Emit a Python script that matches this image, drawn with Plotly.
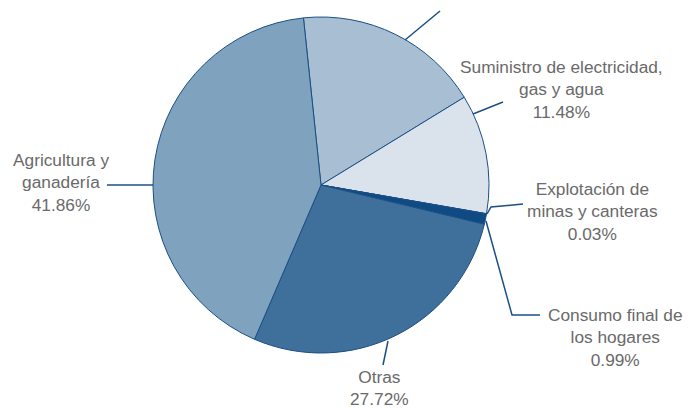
import plotly.graph_objects as go

# Data (clockwise from just left of 12 o'clock)
categories = [
    "Industria",
    "Suministro de electricidad,<br>gas y agua",
    "Explotación de<br>minas y canteras",
    "Consumo final de<br>los hogares",
    "Otras",
    "Agricultura y<br>ganadería",
]
shares = [17.92, 11.48, 0.03, 0.99, 27.72, 41.86]
colors = ["#a8bed3", "#dae3ec", "#1d5a92", "#0f4a84", "#3f6f9b", "#7fa2bf"]

W, H = 694, 410
CX, CY, R = 321, 185, 168

fig = go.Figure()
fig.add_trace(go.Pie(
    values=shares,
    labels=[c.replace("<br>", " ") for c in categories],
    sort=False,
    direction="clockwise",
    rotation=-6,
    textinfo="none",
    hoverinfo="label+percent",
    marker=dict(colors=colors, line=dict(color="#1a4f85", width=1)),
    domain=dict(x=[(CX - R) / W, (CX + R) / W],
                y=[1 - (CY + R) / H, 1 - (CY - R) / H]),
    showlegend=False,
))

def px(x):
    return x / W

def py(y):
    return 1 - y / H

# label placements (pixel centres) and leader lines
label_pos = {
    1: (561, 90),
    2: (592, 211),
    3: (615, 337),
    4: (380, 388),
    5: (61, 183),
}
leaders = [
    [(405, 40), (440, 11)],
    [(473, 114), (503, 102)],
    [(487, 214), (491, 207), (523, 204)],
    [(486, 221), (512, 315), (540, 315)],
    [(388, 341), (383, 365)],
    [(107, 185), (153, 185)],
]

annotations = []
for i, (x, y) in label_pos.items():
    annotations.append(dict(
        text=f"{categories[i]}<br>{shares[i]:.2f}%",
        x=px(x), y=py(y), xref="paper", yref="paper",
        xanchor="center", yanchor="middle", align="center",
        showarrow=False,
        font=dict(family="Liberation Sans, Arial, sans-serif", size=17.3, color="#6a6a6a"),
    ))

shapes = []
for pts in leaders:
    path = "M " + " L ".join(f"{px(x)},{py(y)}" for x, y in pts)
    shapes.append(dict(type="path", path=path, xref="paper", yref="paper",
                       line=dict(color="#1a4f85", width=1.5)))

fig.update_layout(
    width=W, height=H,
    margin=dict(l=0, r=0, t=0, b=0),
    paper_bgcolor="white", plot_bgcolor="white",
    annotations=annotations, shapes=shapes,
)

fig.write_html("out.html", config={"displayModeBar": False},
               post_script="document.body.style.margin='0';document.body.style.overflow='hidden';")
